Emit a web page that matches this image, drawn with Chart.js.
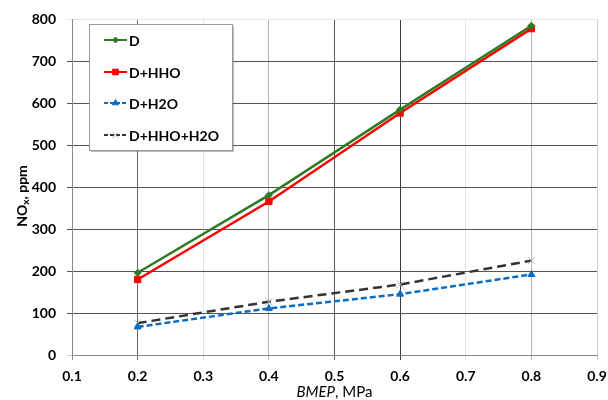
<!DOCTYPE html>
<html>
<head>
<meta charset="utf-8">
<script src="https://cdn.jsdelivr.net/npm/chart.js@4/dist/chart.umd.min.js"></script>
<style>
  html, body { margin: 0; padding: 0; background: #fff; }
  canvas { display: block; }
</style>
</head>
<body>
<canvas id="nox" width="608" height="400"></canvas>
<script>
// BMEP load points (MPa) and NOx emissions (ppm) per fuel mode
const bmep = [0.2, 0.4, 0.6, 0.8];
const noxD = [196, 381, 585, 785];
const noxDHHO = [180, 366, 577, 778];
const noxDH2O = [67, 111, 145, 192];
const noxDHHOH2O = [76, 127, 168, 225];

const xTicks = [0.1, 0.2, 0.3, 0.4, 0.5, 0.6, 0.7, 0.8, 0.9];
const yTicks = [0, 100, 200, 300, 400, 500, 600, 700, 800];

const FONT = 'Lato, "Liberation Sans", sans-serif';

const pts = (ys) => bmep.map((x, i) => ({ x, y: ys[i] }));

// legend box drawn inside the plot, Excel style
const boxLegend = {
  id: 'boxLegend',
  afterDatasetsDraw(chart) {
    const ctx = chart.ctx;
    const x0 = 89, y0 = 24, w = 143, h = 126;
    ctx.save();
    ctx.fillStyle = 'rgba(0,0,0,0.25)';
    ctx.fillRect(x0 + 2, y0 + 2, w, h);
    ctx.fillStyle = '#fff';
    ctx.fillRect(x0, y0, w, h);
    ctx.strokeStyle = '#999';
    ctx.lineWidth = 1;
    ctx.strokeRect(x0 + 0.5, y0 + 0.5, w, h);

    const rows = [40, 72, 103, 135];
    chart.data.datasets.forEach((ds, i) => {
      const y = rows[i];
      ctx.strokeStyle = ds.borderColor;
      ctx.lineWidth = 2;
      ctx.setLineDash(ds.borderDash ? [4, 2] : []);
      ctx.beginPath();
      ctx.moveTo(104, y);
      ctx.lineTo(127, y);
      ctx.stroke();
      ctx.setLineDash([]);
      ctx.fillStyle = ds.pointBackgroundColor;
      ctx.strokeStyle = ds.pointBorderColor;
      ctx.lineWidth = 1;
      Chart.helpers.drawPoint(ctx, {
        pointStyle: ds.pointStyle,
        radius: ds.pointRadius - 0.5,
        borderWidth: 1,
        rotation: 0
      }, 115.5, y);
      ctx.fillStyle = '#000';
      ctx.font = 'bold 14px ' + FONT;
      ctx.textBaseline = 'middle';
      ctx.textAlign = 'left';
      ctx.fillText(ds.label, 129, y + 1);
    });
    ctx.restore();
  }
};

// axis titles with subscript and italic runs
const axisTitles = {
  id: 'axisTitles',
  afterDraw(chart) {
    const ctx = chart.ctx;
    ctx.save();
    ctx.fillStyle = '#000';
    ctx.textBaseline = 'middle';

    // x title: "BMEP, MPa" with BMEP in italics
    const a = 'BMEP', b = ', MPa';
    ctx.font = 'italic 15px ' + FONT;
    const wa = ctx.measureText(a).width;
    ctx.font = '15px ' + FONT;
    const wb = ctx.measureText(b).width;
    const cx = (chart.chartArea.left + chart.chartArea.right) / 2;
    const x = cx - (wa + wb) / 2;
    ctx.textAlign = 'left';
    ctx.font = 'italic 15px ' + FONT;
    ctx.fillText(a, x, 392);
    ctx.font = '15px ' + FONT;
    ctx.fillText(b, x + wa, 392);

    // y title: "NOx, ppm" rotated, x as subscript
    ctx.translate(22, 196);
    ctx.rotate(-Math.PI / 2);
    ctx.font = 'bold 14px ' + FONT;
    const p1 = 'NO', p3 = ', ppm';
    const w1 = ctx.measureText(p1).width;
    const w3 = ctx.measureText(p3).width;
    ctx.font = 'bold 10px ' + FONT;
    const w2 = ctx.measureText('x').width;
    const s = -(w1 + w2 + w3) / 2;
    ctx.font = 'bold 14px ' + FONT;
    ctx.fillText(p1, s, 0);
    ctx.font = 'bold 10px ' + FONT;
    ctx.fillText('x', s + w1, 4);
    ctx.font = 'bold 14px ' + FONT;
    ctx.fillText(p3, s + w1 + w2, 0);
    ctx.restore();
  }
};

const vGrid = ['#8a8a8a', '#6a6a6a', '#e2e2e2', '#b5b5b5', '#5a5a5a', '#3a3a3a', '#e2e2e2', '#b5b5b5', '#d0d0d0'];

new Chart(document.getElementById('nox'), {
  type: 'line',
  data: {
    datasets: [
      {
        label: 'D',
        data: pts(noxD),
        borderColor: '#2e7a25',
        borderWidth: 2.5,
        pointStyle: 'rectRot',
        pointRadius: 3.5,
        pointBorderWidth: 1,
        pointBackgroundColor: '#2e7a25',
        pointBorderColor: '#2e7a25'
      },
      {
        label: 'D+HHO',
        data: pts(noxDHHO),
        borderColor: '#ff0000',
        borderWidth: 2.5,
        pointStyle: 'rect',
        pointRadius: 4.5,
        pointBorderWidth: 1,
        pointBackgroundColor: '#ff0000',
        pointBorderColor: '#ff0000'
      },
      {
        label: 'D+H2O',
        data: pts(noxDH2O),
        borderColor: '#0a6cc2',
        borderWidth: 2.5,
        borderDash: [6, 3],
        pointStyle: 'triangle',
        pointRadius: 4,
        pointBorderWidth: 1,
        pointBackgroundColor: '#0a6cc2',
        pointBorderColor: '#0a6cc2'
      },
      {
        label: 'D+HHO+H2O',
        data: pts(noxDHHOH2O),
        borderColor: '#333333',
        borderWidth: 2.5,
        borderDash: [9, 5],
        pointStyle: 'crossRot',
        pointRadius: 5,
        pointBorderWidth: 1,
        pointBackgroundColor: '#b0b0b0',
        pointBorderColor: '#b0b0b0'
      }
    ]
  },
  options: {
    responsive: false,
    animation: false,
    layout: { padding: { top: 17, right: 11, left: 0, bottom: 0 } },
    plugins: {
      legend: { display: false },
      tooltip: { enabled: false }
    },
    elements: { line: { tension: 0 } },
    scales: {
      x: {
        type: 'linear',
        min: 0.1,
        max: 0.9,
        afterBuildTicks: (s) => { s.ticks = xTicks.map((v) => ({ value: v })); },
        afterFit: (s) => {
          s.height = 45;
          // let the last label run to the canvas edge
          s.paddingLeft = 0;
          s.paddingRight = 0;
        },
        border: { color: '#8a8a8a', width: 1 },
        grid: {
          color: (c) => vGrid[c.index] || '#aaa',
          tickLength: 5,
          lineWidth: 1
        },
        ticks: {
          color: '#000',
          padding: 8,
          font: { family: FONT, size: 14, weight: 'bold' },
          callback: (v) => v.toFixed(1)
        }
      },
      y: {
        min: 0,
        max: 800,
        afterBuildTicks: (s) => { s.ticks = yTicks.map((v) => ({ value: v })); },
        afterFit: (s) => { s.width = 72; },
        border: { color: '#8a8a8a', width: 1 },
        grid: {
          color: (c) => (c.index === 0 ? '#cfcfcf' : c.index === 8 ? '#e6e6e6' : '#555'),
          tickLength: 5,
          lineWidth: 1
        },
        ticks: {
          color: '#000',
          padding: 11,
          font: { family: FONT, size: 14, weight: 'bold' }
        }
      }
    }
  },
  plugins: [boxLegend, axisTitles]
});
</script>
</body>
</html>
